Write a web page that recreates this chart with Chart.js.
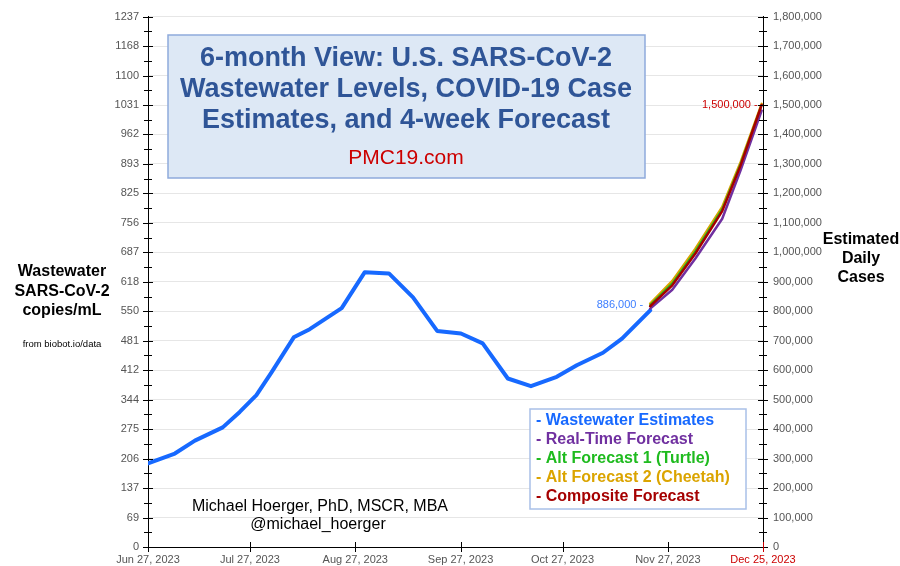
<!DOCTYPE html>
<html>
<head>
<meta charset="utf-8">
<title>6-month View: U.S. SARS-CoV-2 Wastewater Levels</title>
<script src="https://cdn.jsdelivr.net/npm/chart.js@4.4.0/dist/chart.umd.min.js"></script>
<style>
  html, body { margin: 0; padding: 0; background: #fff; }
  #wrap { width: 900px; height: 566px; position: relative; }
</style>
</head>
<body>
<div id="wrap"><canvas id="wwChart" width="900" height="566"></canvas></div>
<script>
// x values are days since Jun 27, 2023
var dateTickDays = [0, 30, 61, 92, 122, 153, 181];
var dateTickLabels = ['Jun 27, 2023', 'Jul 27, 2023', 'Aug 27, 2023', 'Sep 27, 2023', 'Oct 27, 2023', 'Nov 27, 2023', 'Dec 25, 2023'];

// left axis (copies/mL) labels, 18 equal steps up to 1237
var leftMax = 1237;
var leftTickLabels = [0, 69, 137, 206, 275, 344, 412, 481, 550, 618, 687, 756, 825, 893, 962, 1031, 1100, 1168, 1237];
var rightMax = 1800000;

// wastewater estimates (copies/mL)
var wwDays   = [0, 7.9, 13.8, 22, 27, 31.9, 36.4, 42.9, 47.6, 57, 63.8, 70.9, 78, 85.1, 92.1, 98.5, 105.9, 112.7, 120.3, 126.2, 133.9, 139.5, 147.8];
var wwLevels = [195, 218, 248, 279, 315, 354, 408, 489, 508, 557, 641, 638, 582, 504, 498, 475, 393, 375, 397, 424, 453, 486, 552];

// 4-week forecasts (estimated daily cases)
var fcDays    = [147.8, 154.3, 161.1, 169, 174.4, 180.6];
var realTime  = [809000, 873000, 979000, 1114000, 1278000, 1481000];
var turtle    = [821000, 895000, 1004000, 1147000, 1300000, 1500000];
var cheetah   = [826000, 903000, 1012000, 1154000, 1306000, 1504000];
var composite = [817000, 888000, 996000, 1140000, 1295000, 1500000];

var startLabel = '886,000 -';
var endLabel = '1,500,000 -';

var font = 'Liberation Sans, Arial, Helvetica, sans-serif';

function pts(xs, ys) {
  return xs.map(function (d, i) { return { x: d, y: ys[i] }; });
}

function txt(c, s, x, y, size, color, align, bold) {
  c.font = (bold ? 'bold ' : '') + size + 'px ' + font;
  c.fillStyle = color;
  c.textAlign = align || 'center';
  c.textBaseline = 'middle';
  c.fillText(s, x, y);
}

var overlay = {
  id: 'overlay',
  afterDraw: function (chart) {
    var c = chart.ctx;
    var x = chart.scales.x, y = chart.scales.y, y1 = chart.scales.y1;
    var ax = chart.chartArea;
    c.save();

    // tick marks crossing the axes (major + minor)
    c.lineWidth = 1;
    c.strokeStyle = '#000';
    for (var k = 0; k <= 36; k++) {
      var py = Math.round(y.getPixelForValue(k * leftMax / 36)) + 0.5;
      var w = k % 2 === 0 ? 5 : 4;
      c.beginPath();
      c.moveTo(ax.left - w, py); c.lineTo(ax.left + w, py);
      c.moveTo(ax.right - w, py); c.lineTo(ax.right + w, py);
      c.stroke();
    }
    dateTickDays.forEach(function (d, i) {
      var px = Math.round(x.getPixelForValue(d)) + 0.5;
      c.strokeStyle = i === dateTickDays.length - 1 ? '#cc0000' : '#000';
      c.beginPath();
      c.moveTo(px, ax.bottom - 5); c.lineTo(px, ax.bottom + 5);
      c.stroke();
    });

    // start / end value labels
    var sx = x.getPixelForValue(wwDays[wwDays.length - 1]);
    var sy = y.getPixelForValue(wwLevels[wwLevels.length - 1]);
    txt(c, startLabel, sx - 7, sy - 5, 11, '#3d7eff', 'right');
    var ex = x.getPixelForValue(fcDays[fcDays.length - 1]);
    var ey = y1.getPixelForValue(composite[composite.length - 1]);
    txt(c, endLabel, ex - 4, ey, 11, '#cc0000', 'right');

    // title box
    c.fillStyle = '#dde8f5';
    c.fillRect(168, 35, 477, 143);
    c.strokeStyle = '#8eaadb';
    c.lineWidth = 1.5;
    c.strokeRect(168, 35, 477, 143);
    var tx = 406;
    txt(c, '6-month View: U.S. SARS-CoV-2', tx, 59, 27, '#2f5597', 'center', true);
    txt(c, 'Wastewater Levels, COVID-19 Case', tx, 90, 27, '#2f5597', 'center', true);
    txt(c, 'Estimates, and 4-week Forecast', tx, 121, 27, '#2f5597', 'center', true);
    txt(c, 'PMC19.com', tx, 158, 21, '#cc0000', 'center');

    // axis titles
    txt(c, 'Wastewater', 62, 272, 16, '#000', 'center', true);
    txt(c, 'SARS-CoV-2', 62, 292, 16, '#000', 'center', true);
    txt(c, 'copies/mL', 62, 311, 16, '#000', 'center', true);
    txt(c, 'from biobot.io/data', 62, 344, 9.5, '#000', 'center');
    txt(c, 'Estimated', 861, 240, 16, '#000', 'center', true);
    txt(c, 'Daily', 861, 259, 16, '#000', 'center', true);
    txt(c, 'Cases', 861, 278, 16, '#000', 'center', true);

    // author
    txt(c, 'Michael Hoerger, PhD, MSCR, MBA', 320, 507, 16, '#000', 'center');
    txt(c, '@michael_hoerger', 318, 525, 16, '#000', 'center');

    // legend box
    c.fillStyle = '#fff';
    c.fillRect(530, 409, 216, 100);
    c.strokeStyle = '#a9c0e8';
    c.lineWidth = 1.5;
    c.strokeRect(530, 409, 216, 100);
    chart.data.datasets.forEach(function (ds, i) {
      txt(c, '- ' + ds.label, 536, 421 + i * 19, 16, ds.borderColor, 'left', true);
    });

    c.restore();
  }
};

var wwChart = new Chart(document.getElementById('wwChart'), {
  type: 'line',
  data: {
    datasets: [
      { label: 'Wastewater Estimates', data: pts(wwDays, wwLevels), yAxisID: 'y',
        borderColor: '#1769ff', borderWidth: 4, order: 6 },
      { label: 'Real-Time Forecast', data: pts(fcDays, realTime), yAxisID: 'y1',
        borderColor: '#7030a0', borderWidth: 2.5, order: 4 },
      { label: 'Alt Forecast 1 (Turtle)', data: pts(fcDays, turtle), yAxisID: 'y1',
        borderColor: '#1fbb1f', borderWidth: 2, order: 2 },
      { label: 'Alt Forecast 2 (Cheetah)', data: pts(fcDays, cheetah), yAxisID: 'y1',
        borderColor: '#dba400', borderWidth: 2.5, order: 3 },
      { label: 'Composite Forecast', data: pts(fcDays, composite), yAxisID: 'y1',
        borderColor: '#a50000', borderWidth: 2.5, order: 1 }
    ]
  },
  options: {
    responsive: false,
    animation: false,
    layout: { padding: { top: 16, left: 0, right: 0, bottom: 0 } },
    elements: { point: { radius: 0 }, line: { tension: 0, borderCapStyle: 'round', borderJoinStyle: 'round' } },
    plugins: { legend: { display: false }, tooltip: { enabled: false } },
    scales: {
      x: {
        type: 'linear', min: 0, max: 181,
        afterBuildTicks: function (s) { s.ticks = dateTickDays.map(function (v) { return { value: v }; }); },
        afterFit: function (s) { s.height = 19; },
        grid: { display: false, drawTicks: false },
        border: { color: '#000', width: 1 },
        ticks: {
          autoSkip: false, maxRotation: 0, padding: 6,
          font: { family: font, size: 11 },
          color: function (ctx) { return ctx.index === dateTickDays.length - 1 ? '#cc0000' : '#555'; },
          callback: function (v, i) { return dateTickLabels[i]; }
        }
      },
      y: {
        position: 'left', min: 0, max: leftMax,
        afterBuildTicks: function (s) { s.ticks = leftTickLabels.map(function (v, k) { return { value: k * leftMax / 18 }; }); },
        afterFit: function (s) { s.width = 148; },
        grid: { color: '#e6e6e6', drawTicks: false },
        border: { color: '#000', width: 1 },
        ticks: {
          padding: 9, color: '#555', font: { family: font, size: 11 },
          callback: function (v, i) { return leftTickLabels[i]; }
        }
      },
      y1: {
        position: 'right', min: 0, max: rightMax,
        afterFit: function (s) { s.width = 137; },
        grid: { drawOnChartArea: false, drawTicks: false },
        border: { color: '#000', width: 1 },
        ticks: {
          stepSize: 100000, padding: 10, color: '#555', font: { family: font, size: 11 },
          callback: function (v) { return v.toLocaleString('en-US'); }
        }
      }
    }
  },
  plugins: [overlay]
});
</script>
</body>
</html>
